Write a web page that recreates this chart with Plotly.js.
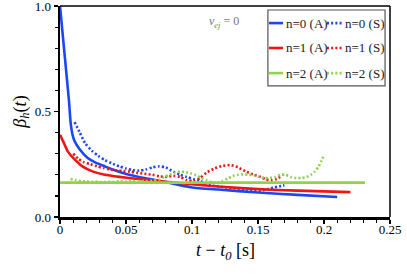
<!DOCTYPE html>
<html>
<head>
<meta charset="utf-8">
<script src="https://cdn.plot.ly/plotly-3.0.1.min.js"></script>
<style>html,body{margin:0;padding:0;background:#fff;}#chart{width:407px;height:276px;}</style>
</head>
<body>
<div id="chart"></div>
<script>
// ---- data ----
const xA0 = [0, 0.0025, 0.005, 0.0068, 0.008, 0.0095, 0.011, 0.015, 0.021, 0.027, 0.034, 0.04, 0.047, 0.055, 0.065, 0.075, 0.09, 0.1, 0.12, 0.15, 0.18, 0.21];
const yA0 = [1.0, 0.835, 0.67, 0.55, 0.45, 0.39, 0.36, 0.32, 0.28, 0.258, 0.24, 0.225, 0.21, 0.197, 0.183, 0.172, 0.152, 0.14, 0.13, 0.116, 0.105, 0.095];

const xA1 = [0, 0.003, 0.006, 0.01, 0.017, 0.025, 0.034, 0.045, 0.059, 0.075, 0.1, 0.125, 0.15, 0.18, 0.22];
const yA1 = [0.39, 0.35, 0.31, 0.28, 0.24, 0.215, 0.2, 0.19, 0.18, 0.17, 0.155, 0.142, 0.132, 0.125, 0.118];

const xA2 = [0, 0.05, 0.1, 0.15, 0.2, 0.231];
const yA2 = [0.163, 0.163, 0.163, 0.163, 0.163, 0.163];

const xS0 = [0.011, 0.015, 0.019, 0.024, 0.029, 0.034, 0.039, 0.045, 0.05, 0.055, 0.06, 0.065, 0.07, 0.075, 0.08, 0.086, 0.091, 0.096, 0.101, 0.106, 0.11, 0.114, 0.12, 0.126, 0.133, 0.141, 0.147, 0.152, 0.158, 0.162, 0.166, 0.17];
const yS0 = [0.45, 0.4, 0.35, 0.315, 0.29, 0.27, 0.255, 0.24, 0.23, 0.222, 0.22, 0.225, 0.235, 0.24, 0.235, 0.215, 0.2, 0.19, 0.18, 0.172, 0.16, 0.15, 0.145, 0.14, 0.135, 0.13, 0.128, 0.125, 0.133, 0.14, 0.145, 0.15];

const xS1 = [0.01, 0.014, 0.018, 0.023, 0.028, 0.033, 0.038, 0.043, 0.048, 0.053, 0.058, 0.064, 0.07, 0.075, 0.08, 0.086, 0.091, 0.096, 0.101, 0.106, 0.111, 0.117, 0.123, 0.129, 0.135, 0.141, 0.147, 0.152, 0.156, 0.16, 0.164, 0.168];
const yS1 = [0.3, 0.275, 0.26, 0.25, 0.24, 0.232, 0.225, 0.22, 0.218, 0.215, 0.21, 0.205, 0.2, 0.193, 0.19, 0.195, 0.19, 0.175, 0.172, 0.185, 0.21, 0.23, 0.242, 0.246, 0.235, 0.215, 0.2, 0.19, 0.178, 0.175, 0.18, 0.195];

const xS2 = [0.008, 0.012, 0.016, 0.02, 0.025, 0.03, 0.035, 0.04, 0.045, 0.05, 0.055, 0.06, 0.065, 0.07, 0.075, 0.079, 0.083, 0.087, 0.091, 0.095, 0.099, 0.103, 0.107, 0.111, 0.115, 0.119, 0.123, 0.127, 0.131, 0.135, 0.139, 0.143, 0.147, 0.151, 0.155, 0.159, 0.163, 0.167, 0.171, 0.175, 0.179, 0.183, 0.187, 0.19, 0.193, 0.196, 0.198, 0.2];
const yS2 = [0.18, 0.175, 0.17, 0.168, 0.167, 0.166, 0.166, 0.167, 0.168, 0.168, 0.169, 0.17, 0.17, 0.172, 0.176, 0.19, 0.2, 0.21, 0.215, 0.213, 0.207, 0.198, 0.185, 0.175, 0.165, 0.16, 0.17, 0.182, 0.195, 0.2, 0.202, 0.2, 0.198, 0.19, 0.185, 0.185, 0.19, 0.2, 0.2, 0.19, 0.185, 0.185, 0.19, 0.2, 0.215, 0.24, 0.265, 0.295];

const seriesNames = ["n=0 (A)", "n=0 (S)", "n=1 (A)", "n=1 (S)", "n=2 (A)", "n=2 (S)"];
const xTickVals = [0, 0.05, 0.1, 0.15, 0.2, 0.25];
const xTickText = ["0", "0.05", "0.1", "0.15", "0.2", "0.25"];
const yTickVals = [0, 0.5, 1.0];
const yTickText = ["0.0", "0.5", "1.0"];

// ---- styles ----
const BLUE = '#1a47f5', RED = '#f01414', GREEN = '#92d050';
const DOT = '2px,2.2px';
const FONT = 'Liberation Serif';

const traces = [
  {x: xA0, y: yA0, name: seriesNames[0], mode: 'lines', line: {color: BLUE, width: 2.6, shape: 'spline', smoothing: 0.5}},
  {x: xS0, y: yS0, name: seriesNames[1], mode: 'lines', line: {color: BLUE, width: 2.6, dash: DOT, shape: 'spline', smoothing: 0.6}},
  {x: xA1, y: yA1, name: seriesNames[2], mode: 'lines', line: {color: RED, width: 2.6, shape: 'spline', smoothing: 0.6}},
  {x: xS1, y: yS1, name: seriesNames[3], mode: 'lines', line: {color: RED, width: 2.6, dash: DOT, shape: 'spline', smoothing: 0.6}},
  {x: xA2, y: yA2, name: seriesNames[4], mode: 'lines', line: {color: GREEN, width: 2.6}},
  {x: xS2, y: yS2, name: seriesNames[5], mode: 'lines', line: {color: GREEN, width: 2.6, dash: DOT, shape: 'spline', smoothing: 0.6}}
];

// manual legend (paper coords)
const legColors = [BLUE, BLUE, RED, RED, GREEN, GREEN];
const rowY = [0.919, 0.801, 0.682];
const shapes = [
  {type: 'line', xref: 'paper', yref: 'paper', x0: 0, x1: 1, y0: 1, y1: 1, line: {color: '#000', width: 1.5}},
  {type: 'line', xref: 'paper', yref: 'paper', x0: 1, x1: 1, y0: 0, y1: 1, line: {color: '#000', width: 1.5}},
  {type: 'rect', xref: 'paper', yref: 'paper', x0: 0.630, x1: 0.985, y0: 0.621, y1: 0.981, fillcolor: '#fff', line: {color: '#555', width: 1.2}, layer: 'above'}
];
const annotations = [
  {xref: 'paper', yref: 'paper', x: 0.445, y: 0.924, xanchor: 'left', yanchor: 'middle', showarrow: false,
   text: '<i>v</i><sub><i>ej</i></sub> = 0', font: {family: FONT, size: 12, color: '#777'}},
  {xref: 'paper', yref: 'paper', x: 0.5, y: -0.165, xanchor: 'center', yanchor: 'middle', showarrow: false,
   text: '<i>t</i> − <i>t</i><sub><i>0</i></sub> [s]', font: {family: FONT, size: 18, color: '#000'}}
];
for (let i = 0; i < 6; i++) {
  const row = Math.floor(i / 2), col = i % 2;
  const y = rowY[row];
  const sx0 = col === 0 ? 0.633 : 0.809, sx1 = col === 0 ? 0.676 : 0.855;
  const tx = col === 0 ? 0.679 : 0.858;
  shapes.push({type: 'line', xref: 'paper', yref: 'paper', x0: sx0, x1: sx1, y0: y, y1: y, layer: 'above',
    line: {color: legColors[i], width: 2.6, dash: col === 1 ? DOT : 'solid'}});
  annotations.push({xref: 'paper', yref: 'paper', x: tx, y: y, xanchor: 'left', yanchor: 'middle', showarrow: false,
    text: traces[i].name, font: {family: FONT, size: 13, color: '#222'}});
}

const layout = {
  width: 407, height: 276,
  margin: {l: 60, r: 17, t: 6, b: 59},
  paper_bgcolor: '#fff', plot_bgcolor: '#fff',
  showlegend: false,
  font: {family: FONT, size: 13, color: '#000'},
  xaxis: {
    range: [0, 0.25], tickvals: xTickVals, ticktext: xTickText,
    ticks: 'outside', ticklen: 4, tickwidth: 1.5, tickcolor: '#000',
    minor: {dtick: 0.01, tick0: 0, ticks: 'outside', ticklen: 3, tickwidth: 1.2, tickcolor: '#000', showgrid: false},
    showline: true, linewidth: 2.5, linecolor: '#000', showgrid: false, zeroline: false,
    ticklabeloverflow: 'allow', ticklabelstandoff: -5,
    tickfont: {family: FONT, size: 13, color: '#000'}
  },
  yaxis: {
    range: [0, 1], tickvals: yTickVals, ticktext: yTickText,
    ticks: 'outside', ticklen: 4, tickwidth: 1.5, tickcolor: '#000',
    minor: {dtick: 0.1, tick0: 0, ticks: 'outside', ticklen: 3, tickwidth: 1.2, tickcolor: '#000', showgrid: false},
    showline: true, linewidth: 2.5, linecolor: '#000', showgrid: false, zeroline: false,
    ticklabeloverflow: 'allow',
    tickfont: {family: FONT, size: 13, color: '#000'},
    title: {text: '<i>β</i><sub><i>h</i></sub>(<i>t</i>)', font: {family: FONT, size: 18, color: '#000'}, standoff: 4}
  },
  shapes: shapes,
  annotations: annotations
};

Plotly.newPlot('chart', traces, layout, {staticPlot: true, displayModeBar: false});
</script>
</body>
</html>
